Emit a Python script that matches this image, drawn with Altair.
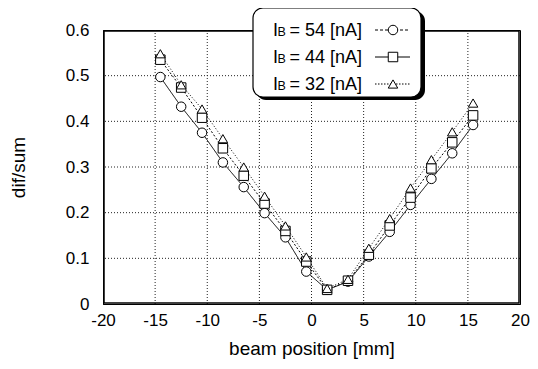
import altair as alt
import pandas as pd

# data
x_pos = [-14.5, -12.5, -10.5, -8.5, -6.5, -4.5, -2.5, -0.5, 1.5, 3.5, 5.5, 7.5, 9.5, 11.5, 13.5, 15.5]
y_54 = [0.497, 0.432, 0.375, 0.310, 0.256, 0.199, 0.146, 0.071, 0.031, 0.049, 0.104, 0.158, 0.217, 0.274, 0.330, 0.392]
y_44 = [0.535, 0.474, 0.408, 0.341, 0.281, 0.220, 0.160, 0.093, 0.031, 0.051, 0.108, 0.172, 0.233, 0.297, 0.354, 0.413]
y_32 = [0.548, 0.480, 0.427, 0.362, 0.300, 0.236, 0.171, 0.103, 0.034, 0.054, 0.122, 0.187, 0.254, 0.316, 0.377, 0.440]
series_names = ["54", "44", "32"]
series_shapes = ["circle", "square", "triangle-up"]
plot_dashes = [[1, 0], [2, 2], [1, 2]]
legend_dashes = [[3, 2], [1, 0], [1.5, 1.5]]
x_ticks = [-20, -15, -10, -5, 0, 5, 10, 15, 20]
y_ticks = [0, 0.1, 0.2, 0.3, 0.4, 0.5, 0.6]

rows = []
for name, ys in zip(series_names, [y_54, y_44, y_32]):
    for xv, yv in zip(x_pos, ys):
        rows.append({"series": name, "x": xv, "y": yv})
df = pd.DataFrame(rows)
xgrid = pd.DataFrame({"x": x_ticks[1:-1]})
ygrid = pd.DataFrame({"y": y_ticks[1:-1]})

FONT = "Liberation Sans"
W, H = 417, 274

xs = alt.X("x:Q", scale=alt.Scale(domain=[-20, 20], nice=False),
           axis=alt.Axis(values=x_ticks, title="beam position [mm]",
                         labelExpr="'' + datum.value", labelFlush=False,
                         grid=False, ticks=False, domain=True, domainColor="black", domainWidth=1,
                         labelFontSize=17,
                         labelPadding=8, titleFontSize=19, titleFontWeight="normal",
                         titleY=44, titleBaseline="middle",
                         labelFont=FONT, titleFont=FONT, labelColor="black", titleColor="black"))
ys = alt.Y("y:Q", scale=alt.Scale(domain=[0, 0.6], nice=False),
           axis=alt.Axis(values=y_ticks, title="dif/sum",
                         labelExpr="datum.value == 0 ? '0' : format(datum.value, '.1f')",
                         labelFlush=False,
                         grid=False, ticks=False, domain=True, domainColor="black", domainWidth=1,
                         labelFontSize=17,
                         labelPadding=14, titleFontSize=19, titleFontWeight="normal",
                         titleX=-85, titleY=137, titleAngle=-90, titleAlign="center",
                         titleBaseline="middle",
                         labelFont=FONT, titleFont=FONT, labelColor="black", titleColor="black"))

vgrid = alt.Chart(xgrid).mark_rule(color="#222222", strokeWidth=1, strokeDash=[1, 2]).encode(x=xs)
hgrid = alt.Chart(ygrid).mark_rule(color="#222222", strokeWidth=1, strokeDash=[1, 2]).encode(y=ys)

anchor = pd.DataFrame({"a": [0]})
frame = alt.Chart(anchor).mark_rect(fill="white", fillOpacity=0, stroke="black", strokeWidth=1.5).encode(
    x=alt.value(1), x2=alt.value(W - 1), y=alt.value(1), y2=alt.value(H - 1))

lines = alt.Chart(df).mark_line(color="black", strokeWidth=1).encode(
    x="x:Q", y="y:Q",
    strokeDash=alt.StrokeDash("series:N", scale=alt.Scale(domain=series_names, range=plot_dashes), legend=None),
    detail="series:N",
)
points = alt.Chart(df).mark_point(filled=True, fill="white", stroke="black", strokeWidth=1, size=90, opacity=1).encode(
    x="x:Q", y="y:Q",
    shape=alt.Shape("series:N", scale=alt.Scale(domain=series_names, range=series_shapes), legend=None),
)

# manual legend box
shadow = alt.Chart(anchor).mark_rect(fill="black", cornerRadius=10).encode(
    x=alt.value(153), x2=alt.value(322), y=alt.value(-19), y2=alt.value(70))
box = alt.Chart(anchor).mark_rect(fill="white", stroke="black", strokeWidth=1.2, cornerRadius=10).encode(
    x=alt.value(150), x2=alt.value(318), y=alt.value(-22), y2=alt.value(67))

legend_layers = []
row_y = [6, 33, 60]
for name, shp, dash, yb in zip(series_names, series_shapes, legend_dashes, row_y):
    legend_layers.append(alt.Chart(anchor).mark_text(text="I", fontSize=18, font=FONT, align="left", baseline="alphabetic", color="black").encode(
        x=alt.value(170), y=alt.value(yb)))
    legend_layers.append(alt.Chart(anchor).mark_text(text="B", fontSize=12.5, font=FONT, align="left", baseline="alphabetic", color="black").encode(
        x=alt.value(174.5), y=alt.value(yb)))
    legend_layers.append(alt.Chart(anchor).mark_text(text=f"= {name} [nA]", fontSize=18, font=FONT, align="left", baseline="alphabetic", color="black").encode(
        x=alt.value(186.5), y=alt.value(yb)))
    legend_layers.append(alt.Chart(anchor).mark_rule(color="black", strokeWidth=1, strokeDash=dash).encode(
        x=alt.value(272), x2=alt.value(307), y=alt.value(yb - 6)))
    legend_layers.append(alt.Chart(anchor).mark_point(shape=shp, filled=True, fill="white", stroke="black", strokeWidth=1, size=90, opacity=1).encode(
        x=alt.value(290), y=alt.value(yb - 6)))

chart = alt.layer(vgrid, hgrid, frame, lines, points, shadow, box, *legend_layers).properties(
    width=W, height=H,
    padding={"left": 95, "top": 22, "right": 10, "bottom": 55},
    autosize=alt.AutoSizeParams(type="none"),
    background="white",
).configure_view(stroke="black", strokeWidth=1)

chart.save("out.html", embed_options={"renderer": "svg", "actions": False})
